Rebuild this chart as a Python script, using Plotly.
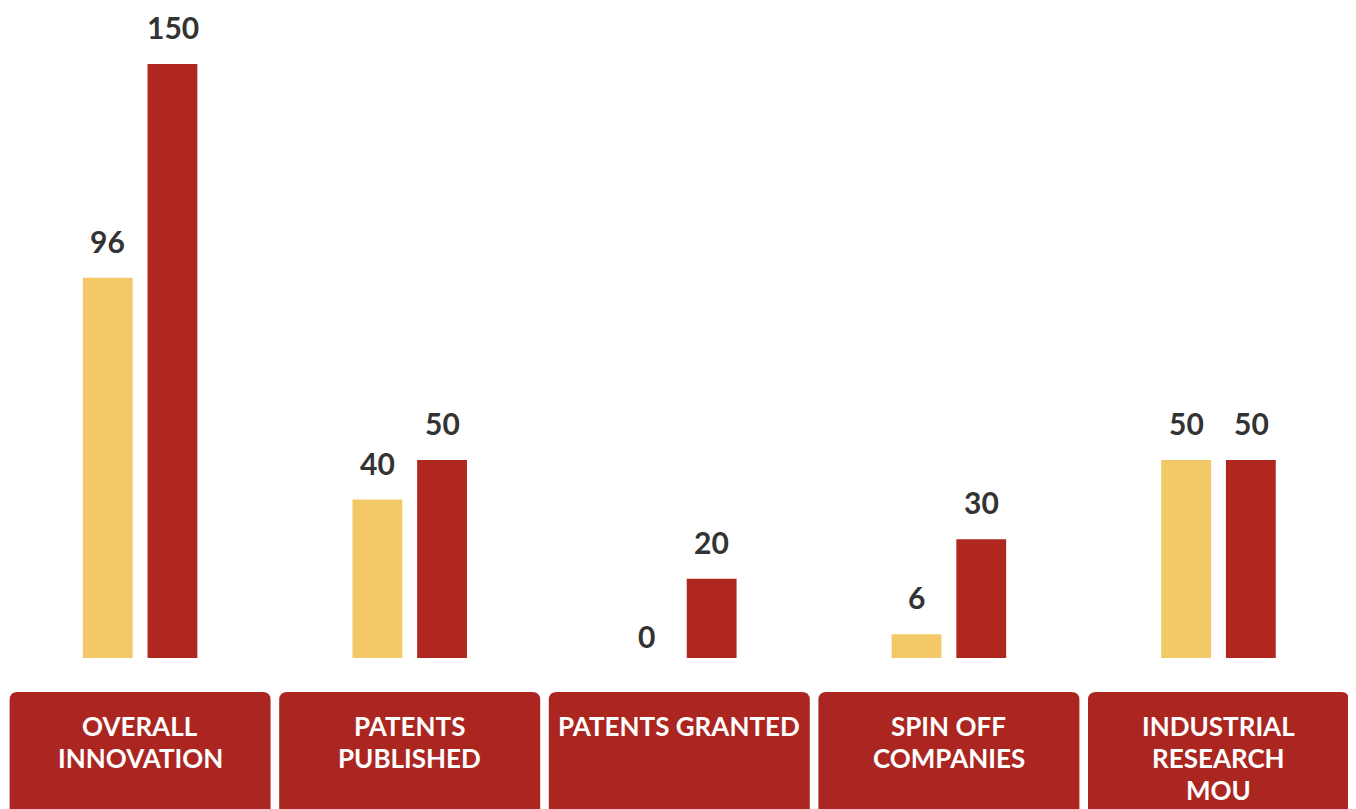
import plotly.graph_objects as go

categories = ["OVERALL<br>INNOVATION", "PATENTS<br>PUBLISHED", "PATENTS GRANTED",
              "SPIN OFF<br>COMPANIES", "INDUSTRIAL<br>RESEARCH<br>MOU"]
series_a = [96, 40, 0, 6, 50]     # yellow
series_b = [150, 50, 20, 30, 50]  # dark red

YELLOW = "#F3C866"
RED = "#B0271F"
BOX = "#AB2621"
TXT = "#333333"

# page body has an 8px margin; figure sized to fill the rest of the window
W, H = 1348, 801
ML, MR, MT, MB = 0, 0, 0, 151
plot_h = H - MT - MB
plot_w = W - ML - MR
x = list(range(len(categories)))

fig = go.Figure()
fig.add_trace(go.Bar(x=x, y=series_a, marker=dict(color=YELLOW, line=dict(width=0)), showlegend=False))
fig.add_trace(go.Bar(x=x, y=series_b, marker=dict(color=RED, line=dict(width=0)), showlegend=False))

# value labels
for i in x:
    for vals, dx in ((series_a, -32.5), (series_b, 32.5)):
        v = vals[i]
        fig.add_annotation(x=i, y=v, xref="x", yref="y", text=str(v), showarrow=False,
                           xshift=dx, yshift=37 if v > 0 else 22, yanchor="middle",
                           font=dict(family="Lato", size=30, color=TXT, weight="bold"))

# category boxes with rounded corners
upx = plot_w / 5.0
half = 130.5 / upx
rx = 8 / upx
ry = 8 / plot_h
top = -34 / plot_h
bot = -160 / plot_h
for i, c in enumerate(categories):
    x0, x1 = i - half, i + half
    path = (f"M{x0+rx},{top} L{x1-rx},{top} Q{x1},{top} {x1},{top-ry} "
            f"L{x1},{bot+ry} Q{x1},{bot} {x1-rx},{bot} L{x0+rx},{bot} "
            f"Q{x0},{bot} {x0},{bot+ry} L{x0},{top-ry} Q{x0},{top} {x0+rx},{top} Z")
    fig.add_shape(type="path", path=path, xref="x", yref="paper",
                  fillcolor=BOX, line=dict(width=0), layer="above")
    for k, line in enumerate(c.split("<br>")):
        fig.add_annotation(x=i, y=-(68 + 32 * k) / plot_h, xref="x", yref="paper",
                           text=line, showarrow=False, yanchor="middle", xanchor="center",
                           font=dict(family="Lato", size=26, color="white", weight="bold"))

fig.update_layout(
    width=W, height=H,
    margin=dict(l=ML, r=MR, t=MT, b=MB),
    paper_bgcolor="white", plot_bgcolor="white",
    barmode="group", bargap=0.52, bargroupgap=0.23,
    xaxis=dict(range=[-0.49, 4.51], visible=False, fixedrange=True),
    yaxis=dict(range=[0, plot_h / 3.96], visible=False, fixedrange=True),
    showlegend=False,
)
fig.write_html("out.html")
